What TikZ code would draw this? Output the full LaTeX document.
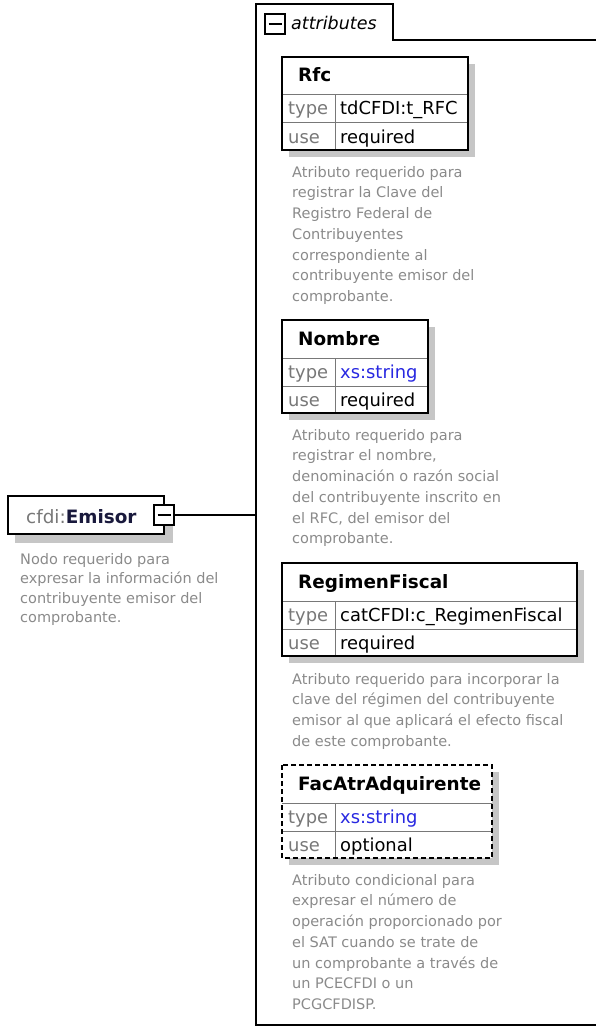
\documentclass[tikz,border=0pt]{standalone}
\usepackage{fontspec}
\setmainfont{DejaVu Sans}
\usetikzlibrary{positioning}

\definecolor{descgray}{RGB}{138,138,138}
\definecolor{labelgray}{RGB}{120,120,120}
\definecolor{shadowgray}{RGB}{198,198,198}
\definecolor{xsblue}{RGB}{40,40,225}
\definecolor{emisornavy}{RGB}{25,25,60}

\tikzset{
  boxline/.style={draw=black, line width=2pt},
  rowline/.style={draw=labelgray, line width=1pt},
  minusbox/.style={draw=black, fill=white, line width=2pt, minimum size=20pt, inner sep=0pt},
  titletext/.style={anchor=base west, inner sep=0pt, font=\fontsize{18.4}{22}\selectfont\bfseries},
  celltext/.style={anchor=base west, inner sep=0pt, font=\fontsize{17.9}{21}\selectfont},
  desctext/.style={anchor=north west, inner sep=0pt, align=left, text=descgray, font=\fontsize{14.5}{20.7}\selectfont}
}

\newcommand{\attrbox}[7]{%
  \fill[shadowgray] (289,#2+7) rectangle (#3+7,#2+100);
  \fill[white] (282,#2) rectangle (#3,#2+93);
  \draw[rowline] (282,#2+38) -- (#3,#2+38) (282,#2+66) -- (#3,#2+66) (335,#2+38) -- (335,#2+93);
  \draw[boxline,#7] (282,#2) rectangle (#3,#2+93);
  \node[titletext] (#1) at (298,#2+25) {#4};
  \node[celltext,text=labelgray] (#1type) at (288,#2+58) {type};
  \node[celltext] (#1typeval) at (340,#2+58) {#5};
  \node[celltext,text=labelgray] (#1use) at (288,#2+86) {use};
  \node[celltext] (#1useval) at (340,#2+86) {#6};
}

\begin{document}
\begin{tikzpicture}[x=1pt,y=-1pt]
\useasboundingbox (0,0) rectangle (596,1030);

\draw[boxline] (597,40) -- (393,40) -- (393,4) -- (256,4) -- (256,1025) -- (597,1025);
\coordinate (attrleft) at (256,515);
\node[minusbox] (tabminus) at (275,24) {};
\draw[line width=2pt] ([xshift=-6.5pt]tabminus.center) -- ([xshift=6.5pt]tabminus.center);
\node[anchor=base west, inner sep=0pt, font=\fontsize{17.5}{21}\selectfont\itshape] (attrlabel) at (291,30) {attributes};

\attrbox{rfc}{57}{468}{Rfc}{tdCFDI:t\_RFC}{required}{solid}
\node[desctext] (rfcdesc) at (292,166) {Atributo requerido para\\registrar la Clave del\\Registro Federal de\\Contribuyentes\\correspondiente al\\contribuyente emisor del\\comprobante.};

\attrbox{nombre}{320}{428}{Nombre}{\textcolor{xsblue}{xs:string}}{required}{solid}
\node[desctext] (nombredesc) at (292,429) {Atributo requerido para\\registrar el nombre,\\denominación o razón social\\del contribuyente inscrito en\\el RFC, del emisor del\\comprobante.};

\attrbox{regimen}{563}{577}{RegimenFiscal}{catCFDI:c\_RegimenFiscal}{required}{solid}
\node[desctext] (regimendesc) at (292,673) {Atributo requerido para incorporar la\\clave del régimen del contribuyente\\emisor al que aplicará el efecto fiscal\\de este comprobante.};

\attrbox{facatr}{765}{492}{FacAtrAdquirente}{\textcolor{xsblue}{xs:string}}{optional}{dash pattern=on 5pt off 3pt}
\node[desctext] (facatrdesc) at (292,874) {Atributo condicional para\\expresar el número de\\operación proporcionado por\\el SAT cuando se trate de\\un comprobante a través de\\un PCECFDI o un\\PCGCFDISP.};

% element node
\fill[shadowgray] (15,504) rectangle (173,543);
\draw[boxline, fill=white] (8,496) rectangle (164,534);
\node[anchor=base west, inner sep=0pt, font=\fontsize{18.4}{22}\selectfont] (emisor) at (26,523) {\textcolor{labelgray}{cfdi:}\textcolor{emisornavy}{\bfseries Emisor}};
\node[minusbox] (emisorminus) at (164,515) {};
\draw[line width=2pt] ([xshift=-6.5pt]emisorminus.center) -- ([xshift=6.5pt]emisorminus.center);
\draw[line width=1.8pt] (emisorminus.east) -- (attrleft);
\node[desctext, font=\fontsize{14.5}{19.4}\selectfont] (emisordesc) at (20,553) {Nodo requerido para\\expresar la información del\\contribuyente emisor del\\comprobante.};
\end{tikzpicture}
\end{document}
